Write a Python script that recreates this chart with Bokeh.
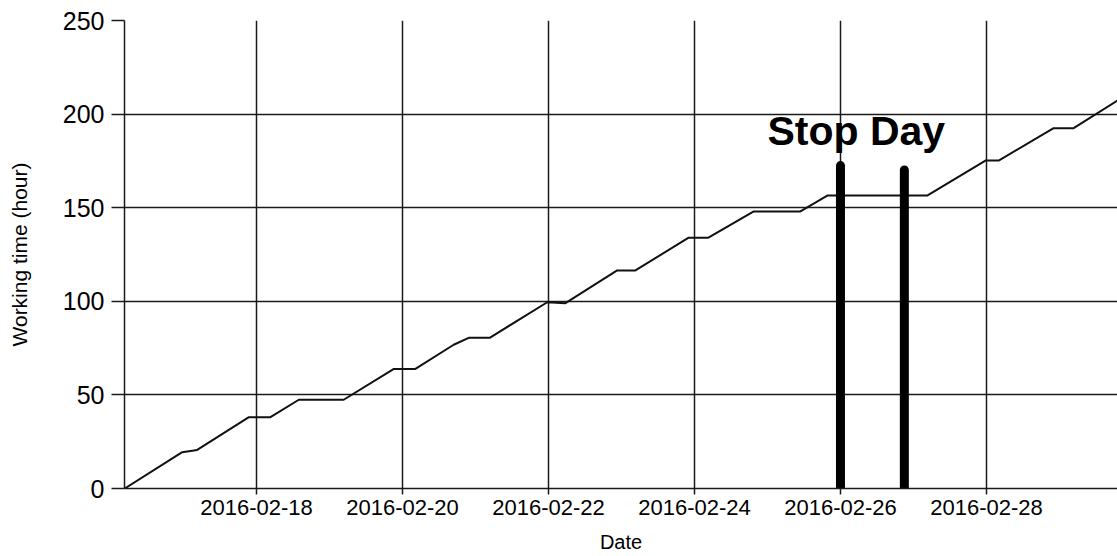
from datetime import datetime
import pandas as pd
from bokeh.plotting import figure
from bokeh.models import Range1d, FixedTicker, DatetimeTickFormatter, ColumnDataSource
from bokeh.core.properties import value
from bokeh.embed import file_html
from bokeh.resources import INLINE

# ---- data ----
times = [
    "2016-02-16 04:40", "2016-02-16 23:35", "2016-02-17 04:30", "2016-02-17 21:30",
    "2016-02-18 04:35", "2016-02-18 13:55", "2016-02-19 04:40", "2016-02-19 21:10",
    "2016-02-20 04:15", "2016-02-20 16:50", "2016-02-20 21:45", "2016-02-21 04:40",
    "2016-02-21 23:35", "2016-02-22 05:35", "2016-02-22 22:35", "2016-02-23 04:35",
    "2016-02-23 22:05", "2016-02-24 04:35", "2016-02-24 19:30", "2016-02-25 10:50",
    "2016-02-25 19:40", "2016-02-27 04:30", "2016-02-27 23:40", "2016-02-28 04:00",
    "2016-02-28 22:05", "2016-02-29 04:40", "2016-02-29 19:05",
]
hours = [
    0.0, 19.4, 20.6, 38.1,
    38.1, 47.4, 47.4, 63.9,
    63.9, 76.8, 80.5, 80.5,
    99.5, 99.0, 116.5, 116.5,
    134.0, 134.0, 148.0, 148.0,
    156.5, 156.5, 175.2, 175.2,
    192.5, 192.5, 207.2,
]

stop_x = ["2016-02-26 00:00", "2016-02-26 21:00"]
stop_top = [172.5, 170.2]
stop_bottom = [0.0, 0.0]

label_x = ["2016-02-25 00:00"]
label_y = [191.0]
label_text = ["Stop Day"]

x_tick_labels = ["2016-02-18", "2016-02-20", "2016-02-22", "2016-02-24", "2016-02-26", "2016-02-28"]
y_ticks = [0, 50, 100, 150, 200, 250]

x_title = "Date"
y_title = "Working time (hour)"

x_start = "2016-02-16 04:36"
x_end = "2016-02-29 19:05"

# ---- figure ----
def ts(s):
    return pd.Timestamp(s).to_pydatetime()

p = figure(
    width=1117, height=556,
    x_axis_type="datetime",
    x_range=Range1d(ts(x_start), ts(x_end)),
    y_range=Range1d(0, 250),
    output_backend="svg", toolbar_location=None,
    min_border_left=124, min_border_right=0, min_border_top=20, min_border_bottom=68,
)
p.outline_line_color = None
p.background_fill_color = "white"
p.border_fill_color = "white"

src = ColumnDataSource(dict(t=[ts(s) for s in times], h=hours))
p.line("t", "h", source=src, line_color="#111111", line_width=2)

bars = ColumnDataSource(dict(x=[ts(s) for s in stop_x], y0=stop_bottom, y1=stop_top))
p.segment(x0="x", y0="y0", x1="x", y1="y1", source=bars, line_color="black",
          line_width=9, line_cap="round")

lab = ColumnDataSource(dict(x=[ts(s) for s in label_x], y=label_y, text=label_text))
p.text(x="x", y="y", text="text", source=lab, text_font=value("Liberation Sans"),
       text_font_style="bold", text_font_size="41px", text_color="black",
       text_align="left", text_baseline="alphabetic")

xt = [pd.Timestamp(s).value // 10**6 for s in x_tick_labels]
p.xaxis.ticker = FixedTicker(ticks=xt)
p.xgrid.ticker = FixedTicker(ticks=xt)
fmt = "%Y-%m-%d"
p.xaxis.formatter = DatetimeTickFormatter(days=fmt, months=fmt, hours=fmt, years=fmt,
                                          hourmin=fmt, minutes=fmt)
p.yaxis.ticker = FixedTicker(ticks=y_ticks)
p.ygrid.ticker = FixedTicker(ticks=y_ticks)

for g in (p.xgrid, p.ygrid):
    g.grid_line_color = "#1a1a1a"
    g.grid_line_width = 1.5

for ax in (p.xaxis, p.yaxis):
    ax.axis_line_color = "#1a1a1a"
    ax.axis_line_width = 1.5
    ax.major_tick_line_color = "#1a1a1a"
    ax.major_tick_line_width = 1.5
    ax.minor_tick_line_color = None
    ax.major_tick_in = 0
    ax.major_label_text_color = "black"
    ax.major_label_text_font = "Liberation Sans"
    ax.axis_label_text_font = "Liberation Sans"
    ax.axis_label_text_font_style = "normal"
    ax.axis_label_text_color = "black"

p.xaxis.major_tick_out = 6
p.xaxis.major_label_text_font_size = "22px"
p.xaxis.major_label_standoff = 5
p.xaxis.axis_label = x_title
p.xaxis.axis_label_text_font_size = "20px"
p.xaxis.axis_label_standoff = 13

p.yaxis.major_tick_out = 13
p.yaxis.major_label_text_font_size = "25px"
p.yaxis.major_label_standoff = 7
p.yaxis.axis_label = y_title
p.yaxis.axis_label_text_font_size = "21px"
p.yaxis.axis_label_standoff = 29

open("out.html", "w").write(file_html(p, INLINE))
